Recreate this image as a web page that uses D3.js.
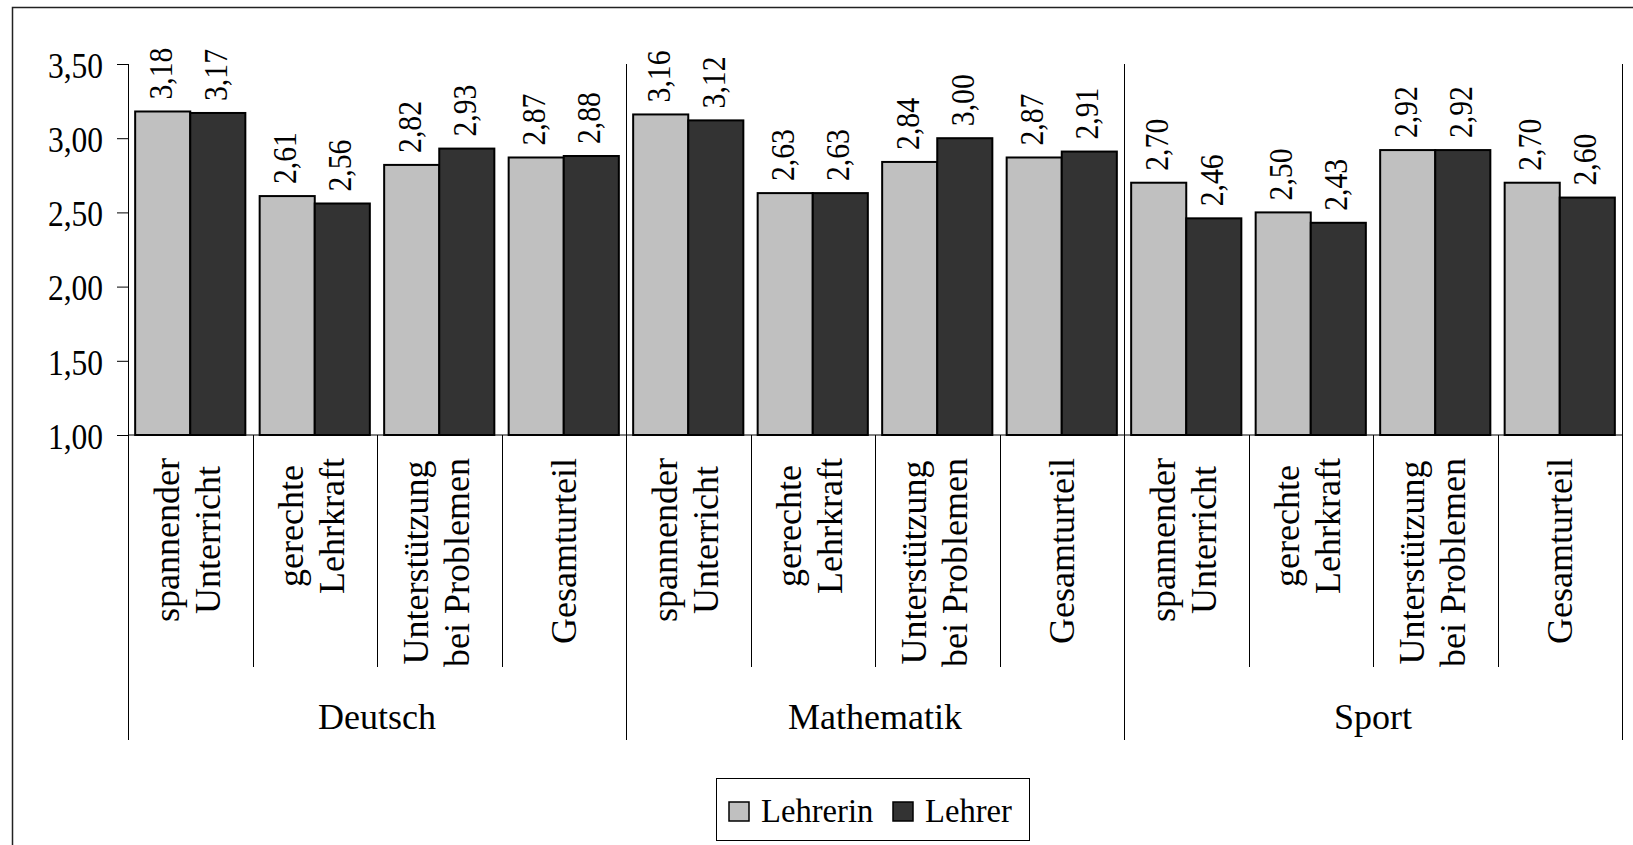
<!DOCTYPE html>
<html>
<head>
<meta charset="utf-8">
<script src="https://cdn.jsdelivr.net/npm/d3@7"></script>
<style>
    body { margin: 0; background: #fff; }
    text { font-family: "Liberation Serif", "Times New Roman", serif; fill: #000; }
</style>
</head>
<body>
<div id="chart"></div>
<script>
// Subjects (groups) and the criteria shown for each subject
var subjects = ["Deutsch", "Mathematik", "Sport"];
var criteria = [
    ["spannender", "Unterricht"],
    ["gerechte", "Lehrkraft"],
    ["Unterstützung", "bei Problemen"],
    ["Gesamturteil"]
];

// Series
var seriesNames = ["Lehrerin", "Lehrer"];
var seriesColors = ["#c0c0c0", "#333333"];

// Values per subject, in order of criteria
var lehrerin = [3.18, 2.61, 2.82, 2.87, 3.16, 2.63, 2.84, 2.87, 2.70, 2.50, 2.92, 2.70];
var lehrer = [3.17, 2.56, 2.93, 2.88, 3.12, 2.63, 3.00, 2.91, 2.46, 2.43, 2.92, 2.60];

// Y axis ticks
var yTicks = [1.00, 1.50, 2.00, 2.50, 3.00, 3.50];

var serif = '"Liberation Serif", "Times New Roman", serif';

function init() {
    var w = 1633;
    var h = 845;

    var svg = d3.select("#chart")
        .append("svg")
        .attr("width", w)
        .attr("height", h);

    // German number format (comma as decimal separator)
    var de = d3.formatLocale({ decimal: ",", thousands: ".", grouping: [3], currency: ["", " €"] });
    var fmt = de.format(".2f");

    // outer frame (right and bottom edges fall outside the picture)
    svg.append("rect")
        .attr("x", 12.5)
        .attr("y", 7.5)
        .attr("width", 1700)
        .attr("height", 900)
        .attr("fill", "#fff")
        .attr("stroke", "#222")
        .attr("stroke-width", 1.5);

    // build the flat list of categories
    var cats = [];
    subjects.forEach(function (s, si) {
        criteria.forEach(function (c, ci) {
            var i = si * criteria.length + ci;
            cats.push({ id: s + "|" + ci, subject: s, lines: c, values: [lehrerin[i], lehrer[i]] });
        });
    });

    var left = 128, right = 1622, top = 64, bottom = 435;

    var x0 = d3.scaleBand()
        .domain(cats.map(d => d.id))
        .range([left, right])
        .padding(0);

    var x1 = d3.scaleBand()
        .domain(seriesNames)
        .range([0, x0.bandwidth()])
        .paddingInner(0)
        .paddingOuter(0.13);

    var y = d3.scaleLinear()
        .domain([1, 3.5])
        .range([bottom, top]);

    // y axis
    var yAxis = svg.append("g")
        .attr("transform", `translate(${left},0)`)
        .call(d3.axisLeft(y).tickValues(yTicks).tickFormat(fmt).tickSize(11).tickSizeOuter(0).tickPadding(14));
    yAxis.attr("font-family", null);
    yAxis.select(".domain").attr("stroke", "#000");
    yAxis.selectAll(".tick line").attr("stroke", "#000");
    // numbers in the original are a bit condensed
    yAxis.selectAll(".tick text")
        .style("font-family", serif)
        .style("font-size", "35px")
        .attr("x", 0)
        .attr("dy", "0.38em")
        .attr("transform", "translate(-25,0) scale(0.9,1)");

    // bars
    var groups = svg.selectAll(".cat")
        .data(cats)
        .enter().append("g")
        .attr("class", "cat")
        .attr("transform", d => `translate(${x0(d.id)},0)`);

    groups.selectAll("rect")
        .data(d => d.values.map((v, k) => ({ key: seriesNames[k], value: v, k: k })))
        .enter().append("rect")
        .attr("x", d => x1(d.key))
        .attr("y", d => y(d.value))
        .attr("width", x1.bandwidth())
        .attr("height", d => y(1) - y(d.value))
        .attr("fill", d => seriesColors[d.k])
        .attr("stroke", "#000")
        .attr("stroke-width", 2);

    // data labels, rotated
    groups.selectAll(".val")
        .data(d => d.values.map((v, k) => ({ key: seriesNames[k], value: v })))
        .enter().append("text")
        .attr("class", "val")
        .style("font-family", serif)
        .style("font-size", "33px")
        .attr("text-anchor", "start")
        .attr("transform", d => `translate(${x1(d.key) + x1.bandwidth() / 2 + 9},${y(d.value) - 12}) rotate(-90) scale(0.9,1)`)
        .text(d => fmt(d.value));

    // x axis line
    svg.append("line")
        .attr("x1", left).attr("x2", right)
        .attr("y1", bottom).attr("y2", bottom)
        .attr("stroke", "#000");

    // separators between criteria
    var bounds = cats.map(d => x0(d.id)).concat([right]);
    svg.selectAll(".sep")
        .data(bounds)
        .enter().append("line")
        .attr("class", "sep")
        .attr("x1", d => Math.round(d) + 0.5).attr("x2", d => Math.round(d) + 0.5)
        .attr("y1", (d, i) => i % criteria.length == 0 ? top : bottom)
        .attr("y2", (d, i) => i % criteria.length == 0 ? 740 : 667)
        .attr("stroke", "#000")
        .attr("stroke-width", 1);

    // criteria labels, rotated, top aligned
    var labelTop = 458;
    groups.each(function (d) {
        var g = d3.select(this);
        var cx = x0.bandwidth() / 2;
        var n = d.lines.length;
        var texts = d.lines.map(function (line, li) {
            var off = (li - (n - 1) / 2) * 41 - (n > 1 ? 3 : 0);
            return g.append("text")
                .style("font-family", serif)
                .style("font-size", "36px")
                .attr("text-anchor", "middle")
                .attr("dominant-baseline", "central")
                .text(line)
                .datum(off);
        });
        var maxLen = d3.max(texts, t => t.node().getComputedTextLength());
        texts.forEach(function (t) {
            var off = t.datum();
            t.attr("transform", `translate(${cx + off},${labelTop + maxLen / 2}) rotate(-90)`);
        });
    });

    // subject labels
    svg.selectAll(".subj")
        .data(subjects)
        .enter().append("text")
        .attr("class", "subj")
        .style("font-family", serif)
        .style("font-size", "36px")
        .attr("text-anchor", "middle")
        .attr("x", (d, i) => (bounds[i * criteria.length] + bounds[(i + 1) * criteria.length]) / 2)
        .attr("y", 729)
        .text(d => d);

    // legend
    var legend = svg.append("g");
    legend.append("rect")
        .attr("x", 716.5).attr("y", 778.5)
        .attr("width", 313).attr("height", 62)
        .attr("fill", "#fff")
        .attr("stroke", "#000");

    var legendX = [729, 893];
    seriesNames.forEach(function (name, k) {
        legend.append("rect")
            .attr("x", legendX[k]).attr("y", 802)
            .attr("width", 20).attr("height", 19)
            .attr("fill", seriesColors[k])
            .attr("stroke", "#000")
            .attr("stroke-width", 1.5);
        legend.append("text")
            .attr("x", legendX[k] + 32)
            .attr("y", 822)
            .style("font-family", serif)
            .style("font-size", "34px")
            .attr("transform", `translate(${legendX[k] + 32},0) scale(0.96,1) translate(${-(legendX[k] + 32)},0)`)
            .text(name);
    });
}

window.onload = init;
</script>
</body>
</html>
